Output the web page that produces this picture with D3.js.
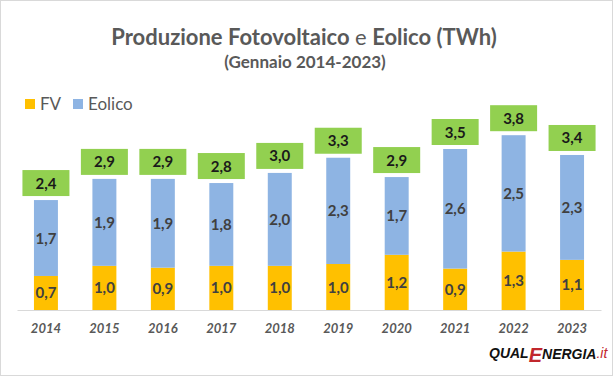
<!DOCTYPE html>
<html>
<head>
<meta charset="utf-8">
<script src="https://cdn.jsdelivr.net/npm/d3@7"></script>
<style>
  html, body { margin: 0; padding: 0; background: #fff; }
  svg { display: block; }
</style>
</head>
<body>
<div id="graph"></div>
<script>
// Data (TWh, January of each year)
var years = ["2014", "2015", "2016", "2017", "2018", "2019", "2020", "2021", "2022", "2023"];
var fv = [0.74, 0.96, 0.92, 0.96, 0.96, 1.0, 1.2, 0.9, 1.27, 1.09];
var eolico = [1.65, 1.89, 1.93, 1.80, 2.02, 2.31, 1.69, 2.6, 2.53, 2.28];
var totals = ["2,4", "2,9", "2,9", "2,8", "3,0", "3,3", "2,9", "3,5", "3,8", "3,4"];
var fvLabels = ["0,7", "1,0", "0,9", "1,0", "1,0", "1,0", "1,2", "0,9", "1,3", "1,1"];
var eolLabels = ["1,7", "1,9", "1,9", "1,8", "2,0", "2,3", "1,7", "2,6", "2,5", "2,3"];
var seriesNames = ["FV", "Eolico"];
var seriesColors = ["#FFC000", "#8EB4E3"];

var W = 613, H = 376;
var FONT = "Lato, 'Open Sans', sans-serif";
var TEXT_GRAY = "#595959";

var svg = d3.select("#graph").append("svg")
  .attr("width", W).attr("height", H)
  .style("font-family", FONT);

// frame
svg.append("rect")
  .attr("x", 0.5).attr("y", 0.5)
  .attr("width", W - 1).attr("height", H - 1)
  .attr("fill", "#fff").attr("stroke", "#d9d9d9");

// title
var title = svg.append("text")
  .attr("x", 304).attr("y", 45)
  .attr("text-anchor", "middle")
  .attr("fill", TEXT_GRAY)
  .attr("font-size", 22);
title.append("tspan").attr("font-weight", "bold").text("Produzione Fotovoltaico ");
title.append("tspan").text("e ");
title.append("tspan").attr("font-weight", "bold").text("Eolico (TWh)");

svg.append("text")
  .attr("x", 305).attr("y", 68)
  .attr("text-anchor", "middle")
  .attr("fill", TEXT_GRAY)
  .attr("font-size", 17)
  .attr("font-weight", "bold")
  .text("(Gennaio 2014-2023)");

// legend
var legend = svg.append("g").attr("transform", "translate(25, 99)");
var lx = [0, 48];
seriesNames.forEach(function(name, i) {
  legend.append("rect")
    .attr("x", lx[i]).attr("y", 0)
    .attr("width", 10).attr("height", 10)
    .attr("fill", seriesColors[i]);
  legend.append("text")
    .attr("x", lx[i] + 15).attr("y", 11)
    .attr("font-size", 17)
    .attr("fill", TEXT_GRAY)
    .text(name);
});

// scales
var x = d3.scaleBand()
  .domain(years)
  .range([17, 601])
  .paddingInner(0.59)
  .paddingOuter(0.29);

var y = d3.scaleLinear()
  .domain([0, 4])
  .range([310, 126]);

// stacked data
var rows = years.map(function(yr, i) {
  return {year: yr, FV: fv[i], Eolico: eolico[i]};
});
var stack = d3.stack().keys(seriesNames)(rows);

svg.append("g")
  .selectAll("g")
  .data(stack)
  .join("g")
    .attr("fill", function(d, i) { return seriesColors[i]; })
  .selectAll("rect")
  .data(function(d) { return d; })
  .join("rect")
    .attr("x", function(d) { return x(d.data.year); })
    .attr("y", function(d) { return y(d[1]); })
    .attr("width", x.bandwidth())
    .attr("height", function(d) { return y(d[0]) - y(d[1]); });

// segment labels
var segLabels = [fvLabels, eolLabels];
stack.forEach(function(layer, k) {
  svg.append("g")
    .selectAll("text")
    .data(layer)
    .join("text")
      .attr("x", function(d) { return x(d.data.year) + x.bandwidth() / 2; })
      .attr("y", function(d) { return (y(d[0]) + y(d[1])) / 2 + 5.5; })
      .attr("text-anchor", "middle")
      .attr("font-size", 15)
      .attr("font-weight", "bold")
      .attr("fill", "#404040")
      .text(function(d, i) { return segLabels[k][i]; });
});

// total boxes
var topLayer = stack[1];
var boxW = 47, boxH = 26;
var boxes = svg.append("g")
  .selectAll("g")
  .data(topLayer)
  .join("g")
    .attr("transform", function(d) {
      var cx = x(d.data.year) + x.bandwidth() / 2;
      return "translate(" + (cx - boxW / 2) + "," + (y(d[1]) - 4 - boxH) + ")";
    });
boxes.append("rect")
  .attr("width", boxW).attr("height", boxH)
  .attr("fill", "#92D050");
boxes.append("text")
  .attr("x", boxW / 2).attr("y", 18.5)
  .attr("text-anchor", "middle")
  .attr("font-size", 15)
  .attr("font-weight", "bold")
  .attr("fill", "#1a1a1a")
  .text(function(d, i) { return totals[i]; });

// x axis
var xAxis = svg.append("g")
  .attr("transform", "translate(0,310)")
  .call(d3.axisBottom(x).tickSize(0).tickPadding(14));
xAxis.select(".domain").attr("stroke", "#d9d9d9");
xAxis.selectAll("text")
  .attr("font-family", FONT)
  .attr("font-size", 13)
  .attr("font-style", "italic")
  .attr("font-weight", "bold")
  .attr("fill", TEXT_GRAY);

// logo
var logo = svg.append("text")
  .attr("x", 489).attr("y", 358)
  .attr("font-family", "'Liberation Sans', Arial, sans-serif")
  .attr("font-style", "italic")
  .attr("font-weight", "bold");
logo.append("tspan").attr("font-size", 14).attr("fill", "#111").text("QUAL");
logo.append("tspan").attr("font-size", 20).attr("dy", 4).attr("fill", "#c1272d").text("E");
logo.append("tspan").attr("font-size", 14).attr("dy", -3).attr("fill", "#111").text("NERGIA");
logo.append("tspan").attr("font-size", 14).attr("dy", -1).attr("font-weight", "normal").attr("fill", "#c1272d").text(".it");
</script>
</body>
</html>
